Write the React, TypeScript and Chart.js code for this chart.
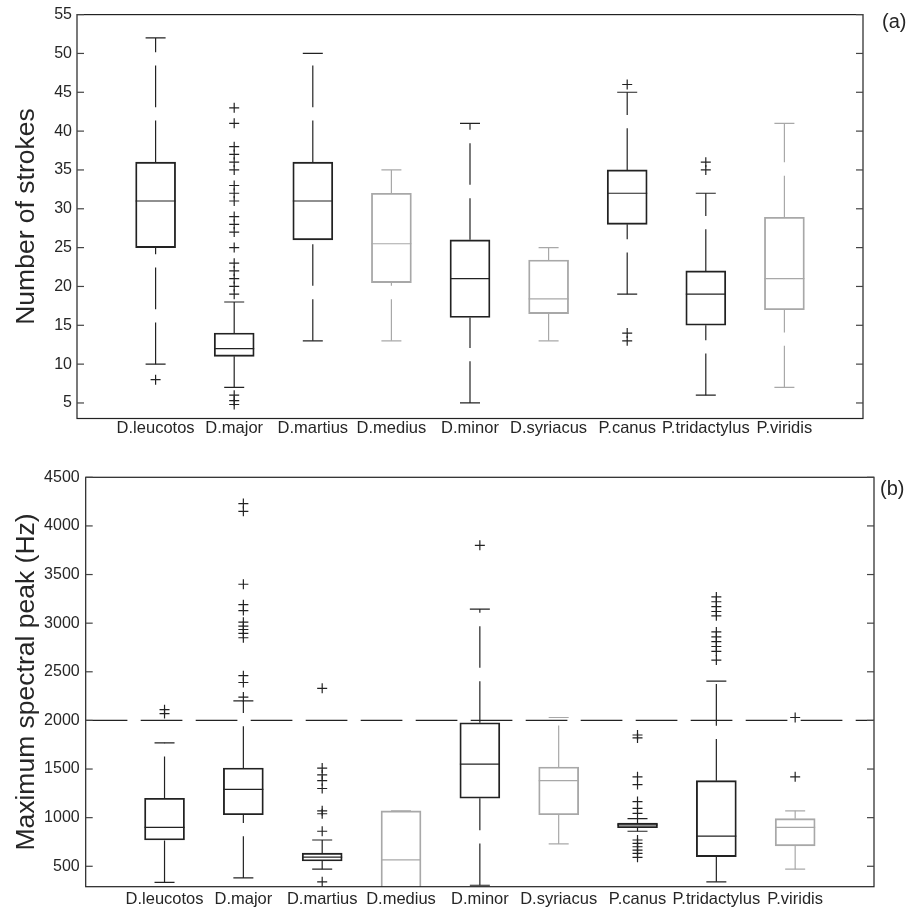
import React, { useEffect, useRef } from 'react';
import { Chart, registerables } from 'chart.js';

Chart.register(...registerables);

// ---------- data ----------
const categories = ['D.leucotos', 'D.major', 'D.martius', 'D.medius', 'D.minor', 'D.syriacus', 'P.canus', 'P.tridactylus', 'P.viridis'];
const grayBoxes = [false, false, false, true, false, true, false, false, true];

// (a) Number of strokes
const strokesWhiskerLo = [10, 7, 13, 13, 5, 13, 19, 6, 7];
const strokesQ1 = [25, 11, 26, 20.5, 16, 16.5, 28, 15, 17];
const strokesMedian = [31, 12, 31, 25.5, 21, 18.4, 32, 19, 21];
const strokesQ3 = [36, 14, 36, 32, 26, 23.4, 35, 22, 28.9];
const strokesWhiskerHi = [52, 18, 50, 35, 41, 25, 45, 32, 41];
const strokesOutliers = [
  [8],
  [43, 41, 38, 37, 36, 35, 33, 32, 31, 29, 28, 27, 25, 23, 22, 21, 20, 19, 6, 5.3, 4.8],
  [],
  [],
  [],
  [],
  [46, 14, 13],
  [36, 35],
  [],
];
const strokesTicks = [5, 10, 15, 20, 25, 30, 35, 40, 45, 50, 55];

// (b) Maximum spectral peak (Hz)
const peakWhiskerLo = [335, 380, 470, 150, 305, 730, 860, 340, 470];
const peakQ1 = [770, 1030, 555, 200, 1200, 1030, 897, 600, 710];
const peakMedian = [900, 1290, 595, 565, 1550, 1380, 925, 810, 900];
const peakQ3 = [1200, 1510, 635, 1070, 1975, 1520, 945, 1380, 990];
const peakWhiskerHi = [1770, 2200, 770, 1070, 3145, 2030, 990, 2405, 1070];
const peakOutliers = [
  [2110, 2070],
  [4230, 4150, 3400, 3190, 3130, 3010, 2970, 2935, 2895, 2850, 2460, 2390, 2240],
  [2330, 1510, 1440, 1380, 1300, 1070, 1040, 860, 340],
  [],
  [3800],
  [],
  [1850, 1820, 1420, 1340, 1165, 1095, 1045, 770, 736, 701, 667, 633, 592],
  [3270, 3220, 3170, 3120, 3075, 2910, 2860, 2810, 2760, 2710, 2620],
  [2030, 1420],
];
const peakTicks = [500, 1000, 1500, 2000, 2500, 3000, 3500, 4000, 4500];
const peakThreshold = 2000;

// ---------- style ----------
const BLACK = '#222222';
const GRAY = '#a8a8a8';
const TEXT = '#262626';
const FONT = "'Liberation Sans', Arial, Helvetica, sans-serif";
const BOX_W = 40;
const CAP_W = 20;
const DASH = [41.7, 13.3];
const LW = 1.2;

interface Geom {
  height: number;
  top: number;
  right: number;
  yWidth: number;
  xHeight: number;
  yTickPad: number;
  xTickPad: number;
  titlePad: number;
  labelX: number;
  labelY: number;
}

interface PanelSpec {
  label: string;
  yTitle: string;
  lo: number[];
  q1: number[];
  med: number[];
  q3: number[];
  hi: number[];
  outliers: number[][];
  ticks: number[];
  yMin: number;
  yMax: number;
  threshold?: number;
  geom: Geom;
}

const panelA: PanelSpec = {
  label: '(a)',
  yTitle: 'Number of strokes',
  lo: strokesWhiskerLo,
  q1: strokesQ1,
  med: strokesMedian,
  q3: strokesQ3,
  hi: strokesWhiskerHi,
  outliers: strokesOutliers,
  ticks: strokesTicks,
  yMin: 3,
  yMax: 55,
  geom: { height: 455, top: 14, right: 46, yWidth: 77, xHeight: 36.5, yTickPad: 5, xTickPad: 0, titlePad: 11, labelX: 882, labelY: 22 },
};

const panelB: PanelSpec = {
  label: '(b)',
  yTitle: 'Maximum spectral peak (Hz)',
  lo: peakWhiskerLo,
  q1: peakQ1,
  med: peakMedian,
  q3: peakQ3,
  hi: peakWhiskerHi,
  outliers: peakOutliers,
  ticks: peakTicks,
  yMin: 290,
  yMax: 4500,
  threshold: peakThreshold,
  geom: { height: 456, top: 22.3, right: 35, yWidth: 85.7, xHeight: 24.3, yTickPad: 6, xTickPad: 3, titlePad: 11, labelX: 880, labelY: 34 },
};

function seg(ctx: CanvasRenderingContext2D, x1: number, y1: number, x2: number, y2: number) {
  ctx.beginPath();
  ctx.moveTo(x1, y1);
  ctx.lineTo(x2, y2);
  ctx.stroke();
}

function buildChart(canvas: HTMLCanvasElement, p: PanelSpec) {
  const g = p.geom;
  const plugin = {
    id: 'boxExtras',
    afterDatasetsDraw(chart: any) {
      const { ctx, chartArea: a, scales } = chart;
      const xs = scales.x;
      const ys = scales.y;
      ctx.save();
      ctx.beginPath();
      ctx.rect(a.left, a.top, a.right - a.left, a.bottom - a.top);
      ctx.clip();
      ctx.lineWidth = LW;
      if (p.threshold !== undefined) {
        const ty = ys.getPixelForValue(p.threshold);
        ctx.strokeStyle = BLACK;
        ctx.setLineDash(DASH);
        seg(ctx, a.left, ty, a.right, ty);
      }
      p.med.forEach((m, i) => {
        const px = xs.getPixelForValue(i + 1);
        ctx.strokeStyle = grayBoxes[i] ? GRAY : BLACK;
        ctx.setLineDash([]);
        const my = ys.getPixelForValue(m);
        seg(ctx, px - BOX_W / 2, my, px + BOX_W / 2, my);
        const loY = ys.getPixelForValue(p.lo[i]);
        const hiY = ys.getPixelForValue(p.hi[i]);
        seg(ctx, px - CAP_W / 2, loY, px + CAP_W / 2, loY);
        seg(ctx, px - CAP_W / 2, hiY, px + CAP_W / 2, hiY);
        ctx.setLineDash(DASH);
        seg(ctx, px, loY, px, ys.getPixelForValue(p.q1[i]));
        seg(ctx, px, ys.getPixelForValue(p.q3[i]), px, hiY);
      });
      ctx.restore();
    },
    afterDraw(chart: any) {
      const { ctx, chartArea: a, scales } = chart;
      const ys = scales.y;
      ctx.save();
      ctx.strokeStyle = BLACK;
      ctx.lineWidth = LW;
      ctx.setLineDash([]);
      ctx.strokeRect(a.left, a.top, a.right - a.left, a.bottom - a.top);
      ctx.strokeStyle = '#444';
      p.ticks.forEach((v) => {
        const py = ys.getPixelForValue(v);
        seg(ctx, a.left, py, a.left + 7, py);
        seg(ctx, a.right - 7, py, a.right, py);
      });
      ctx.fillStyle = TEXT;
      ctx.font = `20px ${FONT}`;
      ctx.textAlign = 'left';
      ctx.textBaseline = 'middle';
      ctx.fillText(p.label, g.labelX, g.labelY);
      ctx.restore();
    },
  };

  return new Chart(canvas, {
    type: 'bar',
    data: {
      datasets: [
        {
          type: 'bar',
          data: categories.map((_, i) => ({ x: i + 1, y: [p.q1[i], p.q3[i]] })) as any,
          backgroundColor: 'rgba(0,0,0,0)',
          borderColor: grayBoxes.map((gb) => (gb ? GRAY : BLACK)),
          borderWidth: LW,
          borderSkipped: false,
          barThickness: BOX_W,
          order: 2,
        } as any,
        {
          type: 'scatter',
          data: p.outliers.flatMap((arr, i) => arr.map((v) => ({ x: i + 1, y: v }))),
          pointStyle: 'cross',
          pointRadius: 5,
          borderColor: BLACK,
          backgroundColor: BLACK,
          borderWidth: LW,
          order: 1,
        } as any,
      ],
    },
    options: {
      animation: false,
      responsive: false,
      events: [],
      layout: { padding: { top: g.top, right: g.right, left: 0, bottom: 0 } },
      plugins: {
        legend: { display: false },
        tooltip: { enabled: false },
        title: { display: false },
      },
      scales: {
        x: {
          type: 'linear',
          min: 0,
          max: categories.length + 1,
          offset: false,
          grid: { display: false, drawTicks: false, offset: false },
          border: { display: false },
          afterBuildTicks: (s: any) => {
            s.ticks = categories.map((_, i) => ({ value: i + 1 }));
          },
          afterFit: (s: any) => {
            s.height = g.xHeight;
          },
          ticks: {
            autoSkip: false,
            maxRotation: 0,
            minRotation: 0,
            padding: g.xTickPad,
            color: TEXT,
            font: { family: FONT, size: 16.5 },
            callback: (v: any) => categories[Number(v) - 1] ?? '',
          },
        },
        y: {
          type: 'linear',
          min: p.yMin,
          max: p.yMax,
          grid: { display: false, drawTicks: false },
          border: { display: false },
          afterBuildTicks: (s: any) => {
            s.ticks = p.ticks.map((v) => ({ value: v }));
          },
          afterFit: (s: any) => {
            s.width = g.yWidth;
          },
          ticks: {
            padding: g.yTickPad,
            color: TEXT,
            font: { family: FONT, size: 16 },
            callback: (v: any) => String(v),
          },
          title: {
            display: true,
            text: p.yTitle,
            color: TEXT,
            font: { family: FONT, size: 26.5 },
            padding: { top: g.titlePad, bottom: 0 },
          },
        },
      },
    } as any,
    plugins: [plugin],
  });
}

function Panel({ spec, top }: { spec: PanelSpec; top: number }) {
  const ref = useRef<HTMLCanvasElement | null>(null);
  useEffect(() => {
    if (!ref.current) return;
    const chart = buildChart(ref.current, spec);
    return () => chart.destroy();
  }, [spec]);
  return (
    <canvas
      ref={ref}
      width={909}
      height={spec.geom.height}
      style={{ position: 'absolute', left: 0, top, width: 909, height: spec.geom.height, display: 'block' }}
    />
  );
}

export default function App() {
  return (
    <div style={{ position: 'absolute', left: 0, top: 0, width: 909, height: 911, background: '#ffffff', overflow: 'hidden' }}>
      <Panel spec={panelA} top={0} />
      <Panel spec={panelB} top={455} />
    </div>
  );
}
